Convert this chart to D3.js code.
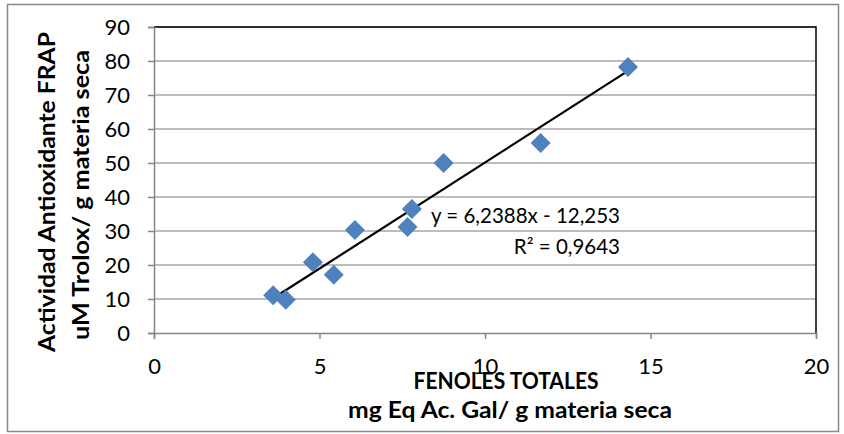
<!DOCTYPE html>
<html lang="es">
<head>
    <meta charset="UTF-8">
    <title>Fenoles totales vs FRAP</title>
    <script src="https://d3js.org/d3.v7.min.js"></script>
    <style>
        body { margin: 0; background: #fff; }
        svg text { font-family: Lato, "Open Sans", sans-serif; fill: #000; }
    </style>
</head>
<body>
    <div id="chart"></div>

    <script>
        // Data
        const fenoles = [3.60, 3.98, 4.80, 5.43, 6.07, 7.66, 7.79, 8.75, 11.68, 14.32];
        const frap = [11.1, 9.8, 20.8, 17.1, 30.3, 31.2, 36.5, 50.0, 55.9, 78.2];
        const xTicks = [0, 5, 10, 15, 20];
        const yTicks = [0, 10, 20, 30, 40, 50, 60, 70, 80, 90];
        const slope = 6.2388;
        const intercept = -12.253;
        const equationText = "y = 6,2388x - 12,253";
        const r2Text = "R² = 0,9643";

        const width = 844, height = 434;
        const margin = {left: 154, right: 28, top: 27, bottom: 101};
        const fontFamily = "Lato, 'Open Sans', sans-serif";

        const svg = d3.select("#chart")
            .append("svg")
            .attr("width", width)
            .attr("height", height);

        // Outer chart border
        svg.append("rect")
            .attr("x", 7.5).attr("y", 4.5)
            .attr("width", 831).attr("height", 427)
            .attr("fill", "none")
            .attr("stroke", "#898989")
            .attr("stroke-width", 1.5);

        const x = d3.scaleLinear()
            .domain([0, 20])
            .range([margin.left, width - margin.right]);

        const y = d3.scaleLinear()
            .domain([0, 90])
            .range([height - margin.bottom, margin.top]);

        // Gridlines
        svg.append("g")
            .selectAll("line")
            .data(yTicks.filter(d => d > 0))
            .join("line")
            .attr("x1", x(0)).attr("x2", x(20))
            .attr("y1", d => y(d)).attr("y2", d => y(d))
            .attr("stroke", "#a6a6a6")
            .attr("stroke-width", 1.5);

        // Plot area border (top and right in black)
        svg.append("path")
            .attr("d", `M${x(0)},${y(90)}H${x(20)}V${y(0)}`)
            .attr("fill", "none")
            .attr("stroke", "#000")
            .attr("stroke-width", 1.5);

        // Axes
        const xAxis = svg.append("g")
            .attr("transform", `translate(0,${y(0)})`)
            .call(d3.axisBottom(x).tickValues(xTicks).tickSize(6).tickPadding(19));

        const yAxis = svg.append("g")
            .attr("transform", `translate(${x(0)},0)`)
            .call(d3.axisLeft(y).tickValues(yTicks).tickSize(6).tickPadding(18));

        [xAxis, yAxis].forEach(g => {
            g.select(".domain").attr("stroke", "#868686").attr("stroke-width", 1.5);
            g.selectAll(".tick line").attr("stroke", "#868686").attr("stroke-width", 1.5);
            g.selectAll(".tick text")
                .attr("font-size", 22)
                .attr("font-family", fontFamily)
                .attr("fill", "#000");
        });

        // Trend line
        const xMin = d3.min(fenoles), xMax = d3.max(fenoles);
        svg.append("line")
            .attr("x1", x(xMin)).attr("y1", y(slope * xMin + intercept))
            .attr("x2", x(xMax)).attr("y2", y(slope * xMax + intercept))
            .attr("stroke", "#000")
            .attr("stroke-width", 2.2);

        // Diamond markers
        const diamond = "M0,-10L10,0L0,10L-10,0Z";
        svg.append("g")
            .selectAll("path")
            .data(fenoles.map((v, i) => [v, frap[i]]))
            .join("path")
            .attr("d", diamond)
            .attr("transform", d => `translate(${x(d[0])},${y(d[1])})`)
            .attr("fill", "#4f81bd");

        // Equation labels
        svg.append("text")
            .attr("x", 620).attr("y", 223)
            .attr("text-anchor", "end")
            .attr("font-size", 20.5)
            .text(equationText);

        svg.append("text")
            .attr("x", 620).attr("y", 254)
            .attr("text-anchor", "end")
            .attr("font-size", 20.5)
            .text(r2Text);

        // Axis titles (stretched to the widths seen in the reference)
        function title(text, transform, len) {
            svg.append("text")
                .attr("transform", transform)
                .attr("text-anchor", "middle")
                .attr("font-size", 22)
                .attr("font-weight", "bold")
                .attr("textLength", len)
                .attr("lengthAdjust", "spacingAndGlyphs")
                .text(text);
        }

        title("FENOLES TOTALES", "translate(506,389)", 185);
        title("mg Eq Ac. Gal/ g materia seca", "translate(510,418)", 324);
        title("Actividad Antioxidante FRAP", "translate(55,192) rotate(-90)", 320);
        title("uM Trolox/ g materia seca", "translate(89,195) rotate(-90)", 290);
    </script>
</body>
</html>
